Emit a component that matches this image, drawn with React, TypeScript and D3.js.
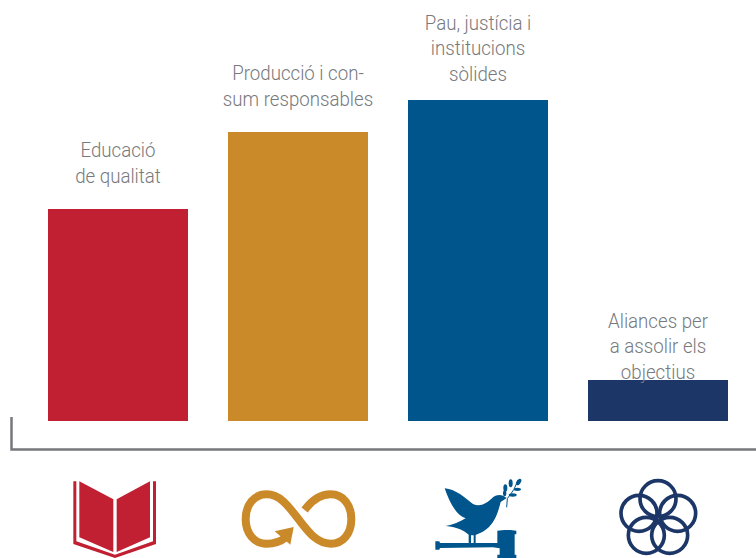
import { useEffect, useRef } from 'react'
import * as d3 from 'd3'

const categories = ['educacio', 'consum', 'pau', 'aliances']
const values = [212, 289, 321, 41]
const colors = ['#c02031', '#cb8a2a', '#00568c', '#1c3667']
const labels = [
  ['Educació', 'de qualitat'],
  ['Producció i con-', 'sum responsables'],
  ['Pau, justícia i', 'institucions', 'sòlides'],
  ['Aliances per', 'a assolir els', 'objectius'],
]
// baseline of the last line, above the bar top
const labelGap = [26, 26, 19, 1]

const width = 756
const height = 558
const baseline = 421

// icons are traced at 3x, origin at the bar centre
function Book({ color }: { color: string }) {
  return (
    <g fill={color}>
      <path d="M238,244 L340,298 L340,456 L238,412 Z" />
      <path d="M350,298 L450,244 L450,412 L350,456 Z" />
      <path d="M220,244 L229,244 L229,424 L345,464 L459,424 L459,244 L468,244 L468,432 L345,474 L220,432 Z" />
    </g>
  )
}

function Infinity({ color }: { color: string }) {
  return (
    <g>
      <path
        d="M914,330 C940,295 965,283 992,283 C1030,283 1054,315 1054,357 C1054,400 1030,431 992,431 C950,431 925,395 895,357 C865,318 840,283 800,283 C762,283 737,315 737,357 C737,400 762,431 800,431 C820,431 840,426 858,412"
        fill="none"
        stroke={color}
        strokeWidth={24}
      />
      <path d="M824,394 L881,381 L871,434 Z" fill={color} />
    </g>
  )
}

function Dove({ color }: { color: string }) {
  return (
    <g fill={color}>
      <path d="M200,265 C235,268 262,295 285,312 C305,322 325,312 345,292 C358,282 372,282 386,294 L368,306 C362,330 352,368 325,388 C312,398 300,402 293,405 L293,430 L287,430 L287,406 L279,406 L279,430 L272,430 L272,404 C258,392 240,382 203,378 C225,375 245,365 263,355 C232,345 212,300 200,265 Z" />
      <path d="M172,424 L184,424 L186,429 L358,429 L358,392 C375,389 400,389 415,392 L415,403 L410,403 L410,464 L415,464 L415,474 L358,474 L358,464 L365,464 L365,445 L345,442 L186,444 L184,449 L172,449 Z" />
      <path d="M386,322 L388,296 L408,268 L420,240" fill="none" stroke={color} strokeWidth={3} />
      <ellipse cx={382} cy={264} rx={6} ry={11} />
      <ellipse cx={398} cy={250} rx={6} ry={12} />
      <ellipse cx={422} cy={246} rx={6} ry={11} transform="rotate(35 422 246)" />
      <ellipse cx={418} cy={268} rx={11} ry={5} />
      <ellipse cx={404} cy={285} rx={12} ry={5} />
      <ellipse cx={380} cy={280} rx={5} ry={9} />
    </g>
  )
}

function Rings({ color }: { color: string }) {
  const centres = [
    [840, 296],
    [783, 340],
    [899, 340],
    [805, 406],
    [875, 406],
  ]
  return (
    <g fill="none" stroke={color} strokeWidth={11}>
      {centres.map((c, i) => (
        <circle key={i} cx={c[0]} cy={c[1]} r={54} />
      ))}
    </g>
  )
}

const icons = [Book, Infinity, Dove, Rings]
const iconRef = [354, 894, 300, 840]

export default function App() {
  const gRef = useRef<SVGGElement>(null)

  const x = d3.scaleBand<string>().domain(categories).range([28, 748]).paddingInner(40 / 180).paddingOuter(20 / 180)
  const y = d3.scaleLinear().domain([0, 421]).range([baseline, 0])

  useEffect(() => {
    if (!gRef.current) return
    const g = d3.select(gRef.current)
    g.selectAll('*').remove()

    g.selectAll('rect')
      .data(categories)
      .enter()
      .append('rect')
      .attr('x', d => x(d) as number)
      .attr('y', (_, i) => y(values[i]))
      .attr('width', x.bandwidth())
      .attr('height', (_, i) => baseline - y(values[i]))
      .attr('fill', (_, i) => colors[i])

    // Add labels
    categories.forEach((c, i) => {
      const cx = (x(c) as number) + x.bandwidth() / 2
      const lines = labels[i]
      const last = y(values[i]) - labelGap[i]
      const t = g.append('text')
        .attr('text-anchor', 'middle')
        .attr('transform', `translate(${cx},0) scale(0.89,1)`)
        .style('font-family', 'Roboto')
        .style('font-weight', '300')
        .style('font-size', '21px')
        .style('fill', '#77797c')
      lines.forEach((l, j) => {
        t.append('tspan')
          .attr('x', 0)
          .attr('y', last - (lines.length - 1 - j) * 25.5)
          .text(l)
      })
    })

    // bracket under the bars
    const line = d3.line()
    g.append('path')
      .attr('d', line([[11.5, 417], [11.5, 449.5], [756, 449.5]]))
      .attr('fill', 'none')
      .attr('stroke', '#76787c')
      .attr('stroke-width', 2.5)
  }, [])

  return (
    <svg width={width} height={height} style={{ position: 'absolute', left: 0, top: 0, display: 'block' }}>
      <rect width={width} height={height} fill="#fff" />
      <g ref={gRef} />
      {categories.map((c, i) => {
        const Icon = icons[i]
        const cx = (x(c) as number) + x.bandwidth() / 2
        return (
          <g key={c} transform={`translate(${cx - iconRef[i] / 3},400) scale(${1 / 3})`}>
            <Icon color={colors[i]} />
          </g>
        )
      })}
    </svg>
  )
}
